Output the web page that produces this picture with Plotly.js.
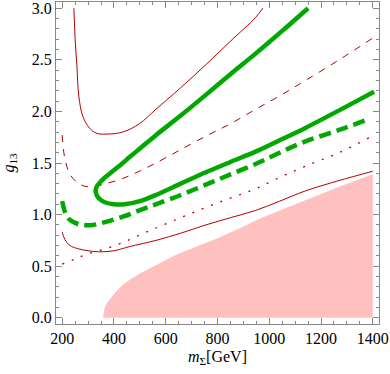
<!DOCTYPE html>
<html>
<head>
<meta charset="utf-8">
<script src="https://cdn.plot.ly/plotly-3.0.1.min.js"></script>
<style>
  html, body { margin: 0; padding: 0; background: #fff; }
  #chart { width: 390px; height: 374px; }
</style>
</head>
<body>
<div id="chart"></div>
<script>
// contour lines (m in GeV, g13)
const upperRedX = [245, 250, 257, 264, 280, 305, 331, 369, 434, 498, 562, 658, 754, 850, 947, 975];
const upperRedY = [3.0, 2.70, 2.43, 2.15, 1.95, 1.84, 1.79, 1.78, 1.80, 1.88, 2.02, 2.23, 2.45, 2.68, 2.91, 3.0];

const greenLoopX = [1150, 1050, 947, 850, 755, 658, 562, 500, 462, 420, 390, 365, 345, 333, 329, 333, 345, 365, 400, 440, 500, 562, 658, 755, 850, 947, 1040, 1140, 1270, 1405];
const greenLoopY = [3.0, 2.78, 2.56, 2.36, 2.16, 1.96, 1.77, 1.64, 1.56, 1.47, 1.41, 1.36, 1.31, 1.27, 1.23, 1.19, 1.15, 1.12, 1.10, 1.10, 1.13, 1.19, 1.30, 1.41, 1.51, 1.61, 1.72, 1.84, 2.01, 2.19];

const redDashX = [200, 209, 228, 254, 280, 320, 369, 434, 498, 562, 658, 755, 850, 947, 1040, 1140, 1270, 1400];
const redDashY = [1.77, 1.56, 1.40, 1.32, 1.28, 1.27, 1.30, 1.35, 1.42, 1.50, 1.63, 1.76, 1.88, 2.02, 2.15, 2.30, 2.50, 2.71];

const greenDashX = [200, 210, 225, 250, 280, 320, 369, 434, 498, 562, 658, 755, 850, 947, 1040, 1140, 1270, 1390];
const greenDashY = [1.13, 1.03, 0.96, 0.92, 0.90, 0.90, 0.93, 0.98, 1.04, 1.10, 1.19, 1.29, 1.39, 1.49, 1.60, 1.71, 1.82, 1.93];

const lowerRedX = [200, 210, 230, 260, 300, 340, 400, 460, 562, 658, 755, 850, 947, 1040, 1140, 1270, 1400];
const lowerRedY = [0.83, 0.76, 0.70, 0.67, 0.65, 0.64, 0.65, 0.69, 0.75, 0.82, 0.90, 0.97, 1.04, 1.13, 1.23, 1.33, 1.42];

const dotRedX = [200, 250, 300, 369, 434, 498, 562, 658, 755, 850, 947, 1040, 1140, 1270, 1390];
const dotRedY = [0.52, 0.57, 0.62, 0.67, 0.73, 0.80, 0.87, 0.97, 1.07, 1.16, 1.25, 1.36, 1.47, 1.60, 1.75];

// excluded region (upper edge), closed along g13 = 0
const pinkX = [358, 360, 365, 375, 390, 410, 435, 462, 500, 562, 640, 719, 800, 880, 962, 1050, 1140, 1270, 1400, 1400, 358];
const pinkY = [0.0, 0.05, 0.10, 0.15, 0.20, 0.26, 0.32, 0.37, 0.43, 0.51, 0.61, 0.69, 0.77, 0.86, 0.96, 1.05, 1.14, 1.27, 1.39, 0.0, 0.0];

const darkRed = "#b30000";
const green = "#00a800";

const traces = [
  { x: pinkX, y: pinkY, type: "scatter", mode: "lines", fill: "toself",
    fillcolor: "#ffc0c0", line: { width: 0, color: "#ffc0c0" } },
  { x: upperRedX, y: upperRedY, type: "scatter", mode: "lines",
    line: { color: darkRed, width: 1, shape: "spline" } },
  { x: redDashX, y: redDashY, type: "scatter", mode: "lines",
    line: { color: darkRed, width: 1, dash: "7px,7px", shape: "spline" } },
  { x: lowerRedX, y: lowerRedY, type: "scatter", mode: "lines",
    line: { color: darkRed, width: 1, shape: "spline" } },
  { x: dotRedX, y: dotRedY, type: "scatter", mode: "lines",
    line: { color: darkRed, width: 1.3, dash: "2px,8px", shape: "spline" } },
  { x: greenDashX, y: greenDashY, type: "scatter", mode: "lines",
    line: { color: green, width: 4.5, dash: "12px,6px", shape: "spline" } },
  { x: greenLoopX, y: greenLoopY, type: "scatter", mode: "lines",
    line: { color: green, width: 4.5, shape: "spline", smoothing: 0.8 } },
];

const axisCommon = {
  showgrid: false,
  zeroline: false,
  showline: true,
  linecolor: "#888",
  linewidth: 1,
  mirror: "ticks",
  ticks: "inside",
  ticklen: 6,
  tickcolor: "#888",
  ticklabeloverflow: "allow",
  tickfont: { family: "Liberation Serif", size: 16, color: "#000" },
};

const layout = {
  width: 390,
  height: 374,
  margin: { l: 56, r: 11, t: 2, b: 50 },
  paper_bgcolor: "#fff",
  plot_bgcolor: "#fff",
  showlegend: false,
  xaxis: Object.assign({}, axisCommon, {
    range: [176, 1424],
    tickvals: [200, 400, 600, 800, 1000, 1200, 1400],
    minor: { dtick: 50, tick0: 200, ticks: "inside", ticklen: 3, tickcolor: "#888" },
    title: { text: "<i>m</i><sub>Σ</sub>[GeV]", font: { family: "Liberation Serif", size: 16, color: "#000" }, standoff: 4 },
  }),
  yaxis: Object.assign({}, axisCommon, {
    range: [-0.06, 3.06],
    tickvals: [0, 0.5, 1, 1.5, 2, 2.5, 3],
    tickformat: ".1f",
    minor: { dtick: 0.1, tick0: 0, ticks: "inside", ticklen: 3, tickcolor: "#888" },
    title: { text: "<i>g</i><sub>13</sub>", font: { family: "Liberation Serif", size: 16, color: "#000" }, standoff: 13 },
  }),
};

Plotly.newPlot("chart", traces, layout, { staticPlot: true });
</script>
</body>
</html>
